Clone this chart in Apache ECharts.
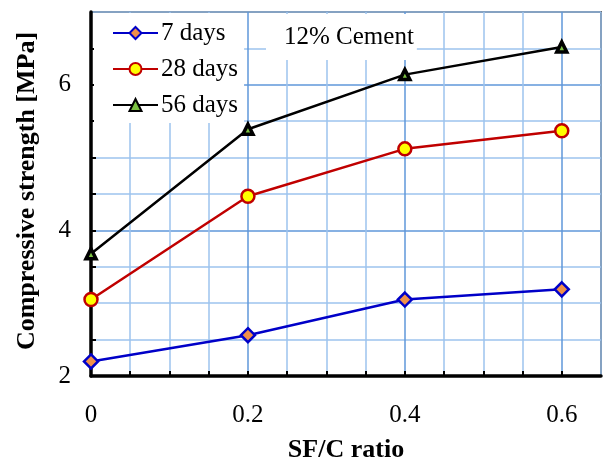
<!DOCTYPE html>
<html><head><meta charset="utf-8">
<script src="https://cdn.jsdelivr.net/npm/echarts@6/dist/echarts.min.js"></script>
<style>html,body{margin:0;padding:0;background:#fff}#c{width:603px;height:467px}</style>
</head><body><div id="c"></div>
<script>
const xValues = [0, 0.2, 0.4, 0.6];
const days7 = [2.20, 2.56, 3.05, 3.19];
const days28 = [3.05, 4.47, 5.12, 5.37];
const days56 = [3.68, 5.39, 6.14, 6.52];
const seriesNames = ['7 days', '28 days', '56 days'];
const xTickLabels = ['0', '0.2', '0.4', '0.6'];
const yTickLabels = ['2', '4', '6'];
const annotation = '12% Cement';

const FONT = '"Liberation Serif","Times New Roman",serif';
const major = '#5f97da', minor = '#9dc3ee';
const pair = (ys) => xValues.map((x, i) => [x, ys[i]]);
const near = (v, list) => list.find(s => Math.abs(parseFloat(s) - v) < 1e-6);

const chart = echarts.init(document.getElementById('c'));
chart.setOption({
  animation: false,
  grid: { left: 91, right: 2, top: 12, bottom: 91, show: true, borderColor: '#000', borderWidth: 1.5,
    backgroundColor: 'transparent', outerBoundsMode: 'none', containLabel: false },
  title: {
    text: annotation, left: 266, top: 14, padding: [11, 3, 10, 18],
    backgroundColor: '#fff',
    textStyle: { fontFamily: FONT, fontSize: 25, fontWeight: 'normal', color: '#000' }
  },
  legend: {
    data: seriesNames, orient: 'vertical', left: 94, top: 13,
    backgroundColor: '#fff', padding: [7, 6, 5, 18],
    itemWidth: 45, itemHeight: 15, itemGap: 10,
    textStyle: { fontFamily: FONT, fontSize: 25, color: '#000', lineHeight: 26, padding: [0, 0, 0, -2] }
  },
  xAxis: {
    type: 'value', min: 0, max: 0.65, interval: 0.05,
    axisLine: { show: true, onZero: false, lineStyle: { color: '#000', width: 3.5 } },
    axisTick: { show: true, inside: true, length: 5, lineStyle: { color: '#000', width: 2 } },
    axisLabel: { margin: 27, fontFamily: FONT, fontSize: 25, color: '#000', showMaxLabel: false,
      formatter: v => near(v, xTickLabels) || '' },
    splitLine: { show: true, lineStyle: { color: [major, minor, minor, minor], width: 1.5 } },
    name: 'SF/C ratio', nameLocation: 'middle', nameGap: 61,
    nameTextStyle: { fontFamily: FONT, fontSize: 26, fontWeight: 'bold', color: '#000' }
  },
  yAxis: {
    type: 'value', min: 2, max: 7, interval: 0.5,
    axisLine: { show: true, onZero: false, lineStyle: { color: '#000', width: 3.5 } },
    axisTick: { show: true, inside: true, length: 5, lineStyle: { color: '#000', width: 2 } },
    axisLabel: { margin: 20, fontFamily: FONT, fontSize: 25, color: '#000', showMaxLabel: false,
      padding: [5, 0, 0, 0], formatter: v => near(v, yTickLabels) || '' },
    splitLine: { show: true, lineStyle: { color: [major, minor, minor, minor], width: 1.5 } },
    name: 'Compressive strength [MPa]', nameLocation: 'middle', nameGap: 51,
    nameTextStyle: { fontFamily: FONT, fontSize: 26, fontWeight: 'bold', color: '#000', padding: [0, 0, 0, 6] }
  },
  series: [
    { name: seriesNames[0], type: 'line', data: pair(days7), symbol: 'diamond', symbolSize: 14,
      lineStyle: { color: '#0000c8', width: 2.5 },
      itemStyle: { color: '#f0904a', borderColor: '#0000c8', borderWidth: 2.5 }, z: 3 },
    { name: seriesNames[1], type: 'line', data: pair(days28), symbol: 'circle', symbolSize: 13,
      lineStyle: { color: '#c00000', width: 2.5 },
      itemStyle: { color: '#ffff00', borderColor: '#c00000', borderWidth: 2.5 }, z: 3 },
    { name: seriesNames[2], type: 'line', data: pair(days56), symbol: 'triangle', symbolSize: 10,
      lineStyle: { color: '#000', width: 2.5 },
      itemStyle: { color: '#7cc242', borderColor: '#000', borderWidth: 3.5 }, z: 3 }
  ]
});
</script></body></html>
